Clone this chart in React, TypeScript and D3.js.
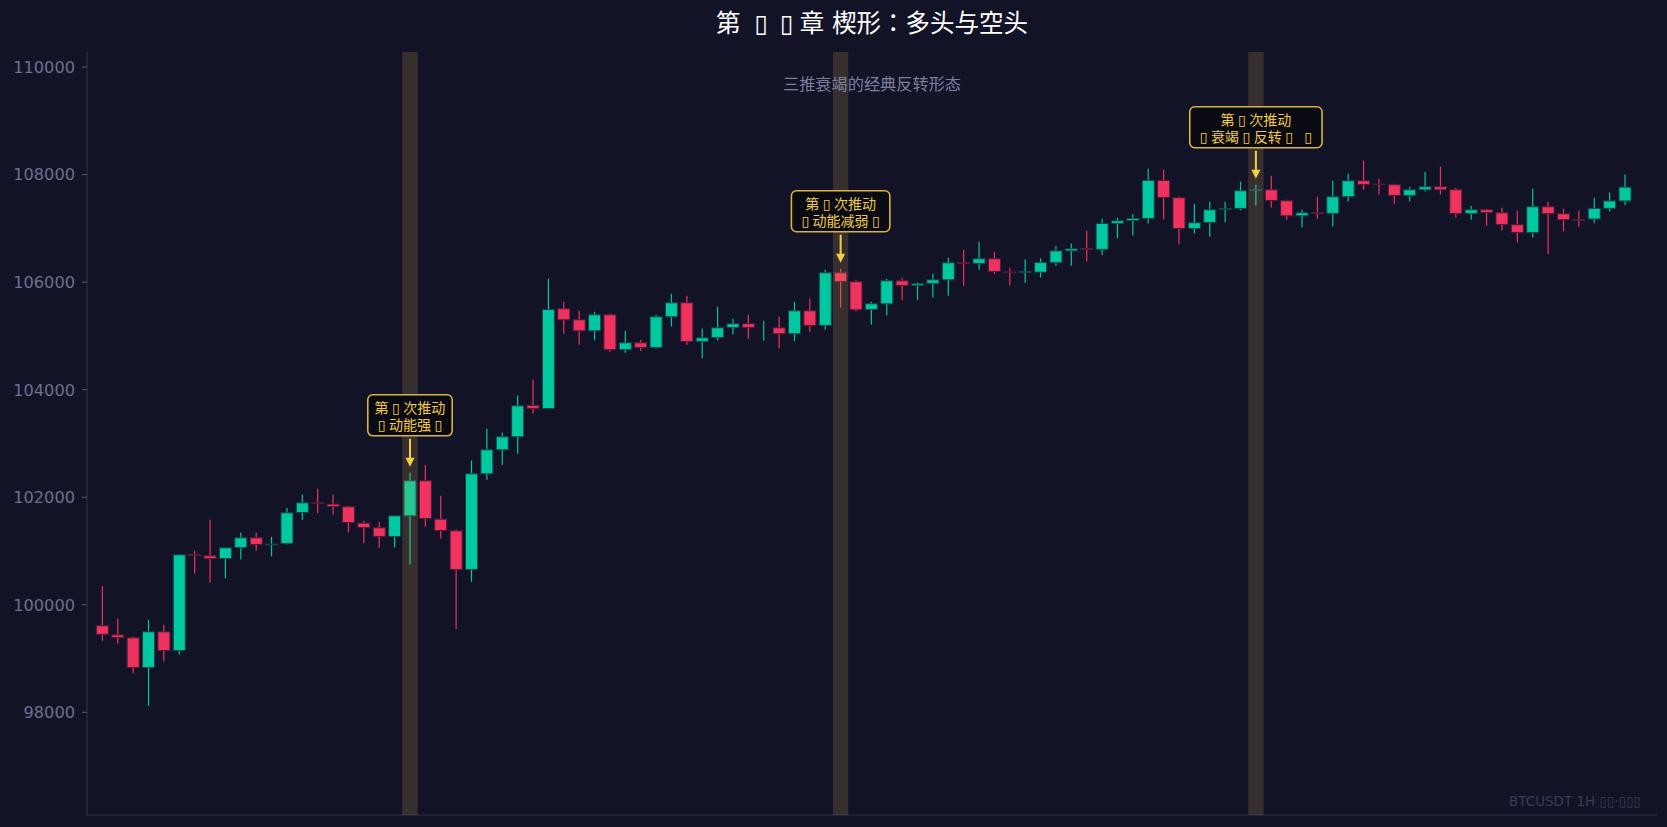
import React, { useEffect, useRef } from "react";
import * as d3 from "d3";

const opens = [
  99610, 99440, 99385, 98833, 99497, 99150, 100935, 100910, 100860, 101065,
  101245, 101115, 101140, 101716, 101895, 101872, 101822, 101518, 101431, 101270,
  101654, 102305, 101592, 101376, 100656, 102436, 102882, 103124, 103707, 103650,
  105505, 105300, 105095, 105393, 104744, 104872, 104785, 105356, 105616, 104897,
  104972, 105157, 105226, 105157, 105151, 105040, 105467, 105195, 106174, 106007,
  105492, 105598, 106025, 105939, 105976, 106044, 106360, 106348, 106435, 106190,
  106180, 106186, 106364, 106581, 106627, 106610, 107092, 107147, 107185, 107892,
  107569, 106999, 107110, 107355, 107371, 107710, 107718, 107514, 107234, 107296,
  107278, 107588, 107885, 107822, 107811, 107613, 107718, 107774, 107718, 107278,
  107346, 107290, 107067, 106924, 107402, 107272, 107160, 107174, 107372, 107510,
];
const highs = [
  100350, 99740, 99405, 99720, 99627, 100930, 101005, 101580, 101060, 101338,
  101338, 101264, 101803, 102045, 102157, 102045, 101840, 101561, 101537, 101654,
  102454, 102597, 102026, 101406, 102684, 103273, 103204, 103893, 104184, 106063,
  105635, 105467, 105449, 105416, 105095, 104928, 105393, 105784, 105746, 105133,
  105542, 105319, 105393, 105281, 105356, 105635, 105691, 106230, 106249, 106044,
  105635, 106063, 106081, 105994, 106156, 106453, 106602, 106751, 106565, 106267,
  106420, 106443, 106676, 106720, 106955, 107179, 107197, 107265, 108109, 108090,
  107588, 107458, 107495, 107495, 107867, 107811, 107978, 107532, 107346, 107588,
  107885, 108016, 108257, 107923, 107830, 107774, 108053, 108146, 107749, 107420,
  107365, 107383, 107327, 107737, 107495, 107365, 107330, 107570, 107668, 108004,
];
const lows = [
  99330, 99280, 98720, 98120, 98945, 99075, 100580, 100415, 100490, 100842,
  101010, 100898, 101121, 101580, 101704, 101673, 101344, 101146, 101065, 101065,
  100749, 101456, 101233, 99547, 100427, 102324, 102603, 102808, 103558, 103637,
  105040, 104835, 104916, 104704, 104685, 104720, 104760, 105176, 104835, 104586,
  104916, 105027, 104947, 104916, 104764, 104902, 105077, 105120, 105529, 105455,
  105213, 105381, 105660, 105672, 105715, 105746, 105932, 106230, 106156, 105939,
  105990, 106087, 106305, 106305, 106384, 106503, 106813, 106869, 107092, 107166,
  106701, 106906, 106850, 107117, 107334, 107427, 107390, 107160, 107017, 107179,
  107036, 107501, 107718, 107631, 107458, 107501, 107687, 107631, 107203, 107160,
  107048, 106962, 106738, 106831, 106522, 106943, 107030, 107095, 107313, 107431,
];
const closes = [
  99450, 99390, 98833, 99497, 99150, 100929, 100915, 100860, 101059, 101245,
  101121, 101128, 101710, 101896, 101885, 101828, 101530, 101437, 101270, 101654,
  102305, 101605, 101382, 100656, 102436, 102882, 103124, 103700, 103651, 105490,
  105300, 105095, 105393, 104745, 104872, 104785, 105356, 105616, 104897, 104965,
  105151, 105226, 105157, 105157, 105040, 105467, 105195, 106174, 106013, 105486,
  105598, 106025, 105939, 105970, 106044, 106360, 106350, 106435, 106199, 106180,
  106195, 106364, 106581, 106620, 106610, 107092, 107141, 107185, 107892, 107575,
  106999, 107104, 107346, 107365, 107700, 107720, 107520, 107234, 107290, 107278,
  107588, 107885, 107817, 107815, 107613, 107718, 107774, 107718, 107278, 107346,
  107296, 107073, 106924, 107402, 107272, 107160, 107150, 107372, 107510, 107767,
];

const yTicks = [98000, 100000, 102000, 104000, 106000, 108000, 110000];
const pushIndex = [20, 48, 75];
const pushLine1 = ["第\u2005▯\u2005次推动", "第\u2005▯\u2005次推动", "第\u2005▯\u2005次推动"];
const pushLine2 = [
  "\u2005▯\u2005动能强\u2005▯\u2005",
  "\u2005▯\u2005动能减弱\u2005▯\u2005",
  "\u2005▯\u2005衰竭\u2005▯\u2005反转\u2005▯\u2005 \u2005▯\u2005",
];
const titleText = "第 \u2005▯\u2005\u2005▯\u2005章 楔形：多头与空头";
const subtitleText = "三推衰竭的经典反转形态";
const watermarkText = "BTCUSDT 1H  ▯▯·▯▯▯";

const W = 1667;
const H = 827;
const BG = "#131328";
const UP = "#00c8a0";
const DOWN = "#f0325f";
const FONT = "'DejaVu Sans', 'Noto Sans CJK JP', 'Noto Sans CJK SC', sans-serif";

export default function App() {
  const ref = useRef<SVGSVGElement | null>(null);

  useEffect(() => {
    document.body.style.margin = "0";
    document.body.style.background = BG;
    const svg = d3.select(ref.current);
    svg.selectAll("*").remove();

    const left = 87, right = 1657, top = 52, bottom = 815;
    const x = d3.scaleLinear().domain([-1, 101.08]).range([left, right]);
    const y = d3.scaleLinear().domain([96090, 110280]).range([bottom, top]);
    const step = x(1) - x(0);
    const bw = step * 0.78;

    svg.append("rect").attr("width", W).attr("height", H).attr("fill", BG);

    // spines
    svg.append("line").attr("x1", left).attr("x2", left).attr("y1", top).attr("y2", bottom)
      .attr("stroke", "#2e2e4a").attr("stroke-width", 1.2);
    svg.append("line").attr("x1", left).attr("x2", right).attr("y1", bottom).attr("y2", bottom)
      .attr("stroke", "#2e2e4a").attr("stroke-width", 1.2);

    // y ticks
    const tg = svg.append("g");
    yTicks.forEach((t) => {
      tg.append("line").attr("x1", left - 5).attr("x2", left).attr("y1", y(t)).attr("y2", y(t))
        .attr("stroke", "#5a5a78").attr("stroke-width", 1);
      tg.append("text").attr("x", left - 12).attr("y", y(t)).attr("dy", "0.36em")
        .attr("text-anchor", "end").attr("font-family", FONT).attr("font-size", 16.2)
        .attr("fill", "#6e6e8e").text(String(t));
    });

    const idx = d3.range(opens.length);
    const colorOf = (i: number) => (closes[i] >= opens[i] ? UP : DOWN);
    const edgeOf = (i: number) => d3.interpolateRgb(BG, colorOf(i))(0.28);

    const cg = svg.append("g");
    cg.selectAll("line.wick").data(idx).join("line")
      .attr("x1", (i) => x(i)).attr("x2", (i) => x(i))
      .attr("y1", (i) => y(highs[i])).attr("y2", (i) => y(lows[i]))
      .attr("stroke", (i) => colorOf(i)).attr("stroke-width", 1.2);
    cg.selectAll("rect.body").data(idx).join("rect")
      .attr("x", (i) => x(i) - bw / 2)
      .attr("width", bw)
      .attr("y", (i) => y(Math.max(opens[i], closes[i])))
      .attr("height", (i) => Math.abs(y(opens[i]) - y(closes[i])))
      .attr("fill", (i) => colorOf(i))
      .attr("stroke", (i) => edgeOf(i)).attr("stroke-width", 1);

    // highlight bands
    svg.append("g").selectAll("rect").data(pushIndex).join("rect")
      .attr("x", (i) => x(i - 0.5)).attr("width", step)
      .attr("y", top).attr("height", bottom - top)
      .attr("fill", "rgba(240,200,80,0.16)");

    // annotations
    pushIndex.forEach((i, k) => {
      const cx = x(i);
      const tip = y(highs[i]) - 6;
      const boxBottom = tip - 31;
      const boxTop = boxBottom - 41;
      const g = svg.append("g");
      const rect = g.append("rect");
      const t1 = g.append("text").attr("x", cx).attr("y", boxTop + 18)
        .attr("text-anchor", "middle").attr("font-family", FONT).attr("font-size", 14)
        .attr("fill", "#f2ca48").text(pushLine1[k]);
      const t2 = g.append("text").attr("x", cx).attr("y", boxTop + 35)
        .attr("text-anchor", "middle").attr("font-family", FONT).attr("font-size", 14)
        .attr("fill", "#f2ca48").text(pushLine2[k]);
      const wBox = Math.max(
        (t1.node() as SVGTextElement).getBBox().width,
        (t2.node() as SVGTextElement).getBBox().width
      ) + 13;
      rect.attr("x", cx - wBox / 2).attr("y", boxTop).attr("width", wBox).attr("height", boxBottom - boxTop)
        .attr("rx", 5).attr("fill", "#0a0a14").attr("stroke", "#d9b43a").attr("stroke-width", 1.6);
      g.append("line").attr("x1", cx).attr("x2", cx).attr("y1", boxBottom + 3).attr("y2", tip - 7)
        .attr("stroke", "#f5d142").attr("stroke-width", 2);
      g.append("path")
        .attr("d", `M${cx - 4.5},${tip - 9}L${cx + 4.5},${tip - 9}L${cx},${tip}Z`)
        .attr("fill", "#f5d142");
    });

    // title & subtitle
    svg.append("text").attr("x", (left + right) / 2).attr("y", 32)
      .attr("text-anchor", "middle").attr("font-family", FONT).attr("font-size", 24.5)
      .attr("fill", "#ffffff").text(titleText);
    svg.append("text").attr("x", (left + right) / 2).attr("y", 90)
      .attr("text-anchor", "middle").attr("font-family", FONT).attr("font-size", 16.2)
      .attr("fill", "#7d7d9d").text(subtitleText);

    // watermark
    svg.append("text").attr("x", 1641).attr("y", 806)
      .attr("text-anchor", "end").attr("font-family", FONT).attr("font-size", 13.5)
      .attr("fill", "#3a3a5a").text(watermarkText);
  }, []);

  return <svg ref={ref} width={W} height={H} style={{ display: "block" }} />;
}
